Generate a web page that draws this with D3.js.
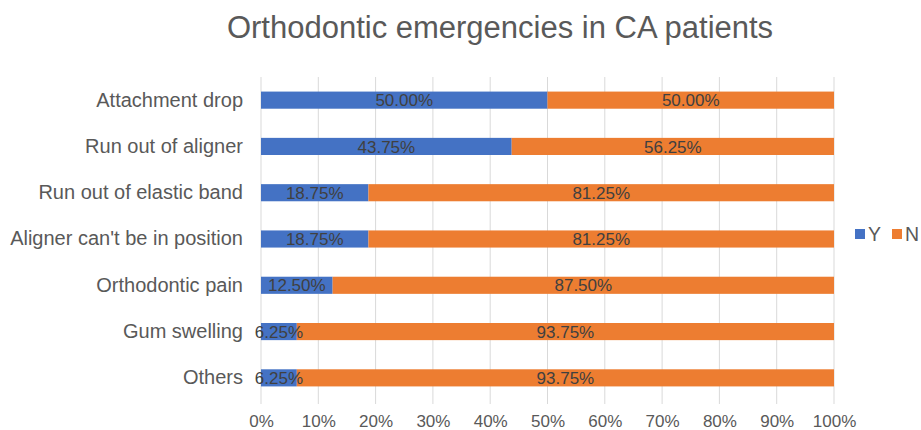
<!DOCTYPE html>
<html>
<head>
<meta charset="utf-8">
<script src="https://cdn.jsdelivr.net/npm/d3@7"></script>
<style>
  body { margin: 0; background: #fff; }
  svg text { font-family: "Liberation Sans", Arial, sans-serif; }
</style>
</head>
<body>
<main></main>
<script>
const width = 921;
const height = 430;

const categories = ['Attachment drop', 'Run out of aligner', 'Run out of elastic band',
  "Aligner can't be in position", 'Orthodontic pain', 'Gum swelling', 'Others'];
const yesValues = [50.00, 43.75, 18.75, 18.75, 12.50, 6.25, 6.25];
const noValues = [50.00, 56.25, 81.25, 81.25, 87.50, 93.75, 93.75];
const xTicks = [0, 10, 20, 30, 40, 50, 60, 70, 80, 90, 100];
const seriesNames = ['Y', 'N'];
const colors = ['#4472c4', '#ed7d31'];

const margin = {left: 261, right: 86, top: 77, bottom: 29};

const svg = d3.select('main')
  .append('svg')
  .attr('width', width)
  .attr('height', height);

svg.append('text')
  .attr('x', 500)
  .attr('y', 38)
  .attr('text-anchor', 'middle')
  .attr('font-size', 31)
  .attr('fill', '#595959')
  .text('Orthodontic emergencies in CA patients');

const xScale = d3.scaleLinear().domain([0, 100]).range([margin.left, width - margin.right - 1]);
const yScale = d3.scaleBand().domain(categories).range([margin.top, height - margin.bottom]).paddingInner(0.63).paddingOuter(0.315);

// gridlines
svg.append('g')
  .selectAll('line')
  .data(xTicks)
  .enter()
  .append('line')
  .attr('x1', (d) => xScale(d))
  .attr('x2', (d) => xScale(d))
  .attr('y1', margin.top)
  .attr('y2', height - margin.bottom + 3)
  .attr('stroke', '#d9d9d9')
  .attr('stroke-width', 1);

// x axis labels
const xAxis = svg.append('g')
  .attr('transform', 'translate(0,' + (height - margin.bottom) + ')')
  .call(d3.axisBottom(xScale).tickValues(xTicks).tickFormat((d) => d + '%').tickSize(0).tickPadding(14));
xAxis.select('.domain').remove();
xAxis.selectAll('text').attr('font-size', 17).attr('fill', '#595959').attr('font-family', '"Liberation Sans", Arial, sans-serif');

// y axis labels
const yAxis = svg.append('g')
  .attr('transform', 'translate(' + margin.left + ',0)')
  .call(d3.axisLeft(yScale).tickSize(0).tickPadding(18));
yAxis.select('.domain').remove();
yAxis.selectAll('text').attr('font-size', 20).attr('fill', '#595959').attr('font-family', '"Liberation Sans", Arial, sans-serif');

// stacked bars
const rows = categories.map((c, i) => ({cat: c, vals: [yesValues[i], noValues[i]]}));
const segs = [];
rows.forEach((r) => {
  let start = 0;
  r.vals.forEach((v, k) => {
    segs.push({cat: r.cat, k: k, x0: start, x1: start + v, v: v});
    start += v;
  });
});

svg.append('g')
  .selectAll('rect')
  .data(segs)
  .enter()
  .append('rect')
  .attr('x', (d) => xScale(d.x0))
  .attr('y', (d) => yScale(d.cat))
  .attr('width', (d) => xScale(d.x1) - xScale(d.x0))
  .attr('height', yScale.bandwidth())
  .attr('fill', (d) => colors[d.k]);

svg.append('g')
  .selectAll('text')
  .data(segs)
  .enter()
  .append('text')
  .attr('x', (d) => (xScale(d.x0) + xScale(d.x1)) / 2)
  .attr('y', (d) => yScale(d.cat) + yScale.bandwidth() / 2)
  .attr('dy', '0.36em')
  .attr('text-anchor', 'middle')
  .attr('font-size', 17)
  .attr('fill', '#404040')
  .text((d) => d.v.toFixed(2) + '%');

// legend
const legend = svg.append('g')
  .selectAll('g')
  .data(seriesNames)
  .enter()
  .append('g')
  .attr('transform', (d, i) => 'translate(' + (855 + i * 37) + ',234)');
legend.append('rect')
  .attr('x', 0)
  .attr('y', -5)
  .attr('width', 10)
  .attr('height', 10)
  .attr('fill', (d, i) => colors[i]);
legend.append('text')
  .attr('x', 13)
  .attr('y', 0)
  .attr('dy', '0.36em')
  .attr('font-size', 19.5)
  .attr('fill', '#595959')
  .text((d) => d);
</script>
</body>
</html>
